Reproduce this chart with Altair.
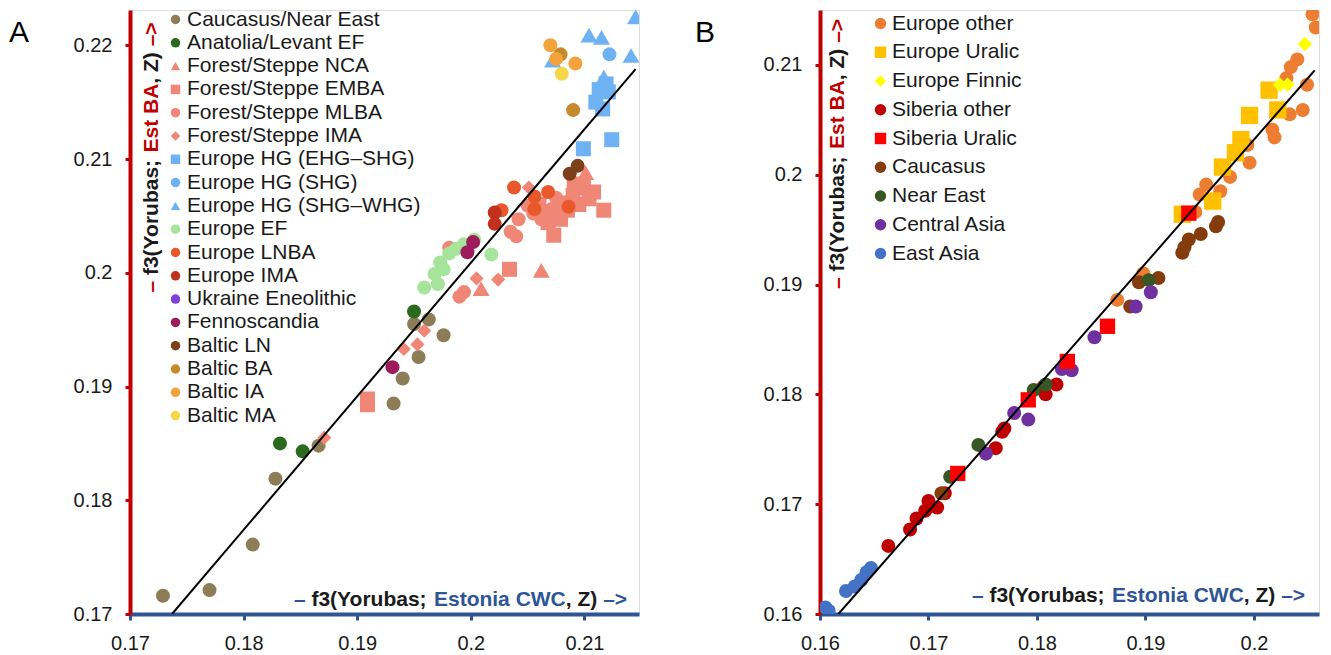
import altair as alt
import pandas as pd

FONT = "Liberation Sans"
RED = "#c00000"
BLUE = "#2f5597"
INK = "#1a1a1a"

# ---------------- Panel A data ----------------
a_groups = ["Caucasus/Near East", "Anatolia/Levant EF", "Forest/Steppe NCA",
            "Forest/Steppe EMBA", "Forest/Steppe MLBA", "Forest/Steppe IMA",
            "Europe HG (EHG–SHG)", "Europe HG (SHG)", "Europe HG (SHG–WHG)",
            "Europe EF", "Europe LNBA", "Europe IMA", "Ukraine Eneolithic",
            "Fennoscandia", "Baltic LN", "Baltic BA", "Baltic IA", "Baltic MA"]
a_colors = ["#8c7d57", "#2a6a1e", "#ef8676", "#ef8676", "#ef8676", "#ef8676",
            "#6fb2f4", "#6fb2f4", "#6fb2f4", "#a5e49a", "#e9582b", "#c2301f",
            "#7e3fdc", "#9b1b5b", "#7b4019", "#c68a2c", "#f2a33b", "#f8d649"]
a_shapes = ["circle", "circle", "triangle-up", "square", "circle", "diamond",
            "square", "circle", "triangle-up", "circle", "circle", "circle",
            "circle", "circle", "circle", "circle", "circle", "circle"]

caucasus_ne = [(0.1729, 0.1716), (0.1770, 0.1721), (0.1808, 0.1761), (0.1828, 0.1819),
               (0.1866, 0.1848), (0.1932, 0.1885), (0.1940, 0.1907), (0.1954, 0.1926),
               (0.1976, 0.1945), (0.1950, 0.1955), (0.1963, 0.1959)]
anatolia_levant = [(0.1832, 0.1850), (0.1852, 0.1843), (0.1950, 0.1966)]
fs_nca = [(0.2101, 0.2088), (0.2062, 0.2002), (0.2009, 0.1986)]
fs_emba = [(0.1909, 0.1884), (0.1909, 0.1889), (0.2034, 0.2003), (0.2073, 0.2033),
           (0.2068, 0.2044), (0.2079, 0.2047), (0.2091, 0.2078), (0.2099, 0.2075),
           (0.2104, 0.2065), (0.2117, 0.2055), (0.2085, 0.2055), (0.2060, 0.2060),
           (0.2090, 0.2068), (0.2095, 0.2060), (0.2078, 0.2060), (0.2065, 0.2052),
           (0.2108, 0.2071)]
fs_mlba = [(0.1981, 0.2022), (0.1990, 0.1979), (0.1994, 0.1983), (0.2035, 0.2036),
           (0.2040, 0.2032), (0.2042, 0.2047), (0.2050, 0.2059), (0.2062, 0.2047),
           (0.2071, 0.2056), (0.2082, 0.2062), (0.2055, 0.2052), (0.2075, 0.2066)]
fs_ima = [(0.1871, 0.1855), (0.1941, 0.1933), (0.1953, 0.1937), (0.1959, 0.1949),
          (0.2005, 0.1995), (0.2024, 0.1994), (0.2051, 0.2075)]
hg_ehg_shg = [(0.2099, 0.2109), (0.2124, 0.2117), (0.2116, 0.2144), (0.2110, 0.2150),
              (0.2121, 0.2159), (0.2113, 0.2161), (0.2119, 0.2166)]
hg_shg = [(0.2122, 0.2192)]
hg_shg_whg = [(0.2072, 0.2187), (0.2104, 0.2209), (0.2115, 0.2207), (0.2117, 0.2172),
              (0.2141, 0.2191), (0.2145, 0.2225)]
europe_ef = [(0.1959, 0.1987), (0.1971, 0.1990), (0.1968, 0.1999), (0.1976, 0.2003),
             (0.1973, 0.2009), (0.1981, 0.2017), (0.1987, 0.2021), (0.1994, 0.2025),
             (0.2003, 0.2029), (0.2018, 0.2016)]
europe_lnba = [(0.2027, 0.2055), (0.2038, 0.2075), (0.2056, 0.2067), (0.2068, 0.2071),
               (0.2056, 0.2056), (0.2086, 0.2058)]
europe_ima = [(0.2021, 0.2053), (0.2021, 0.2043)]
ukraine_eneolithic = []
fennoscandia = [(0.1931, 0.1917), (0.1997, 0.2018), (0.2002, 0.2027)]
baltic_ln = [(0.2087, 0.2087), (0.2094, 0.2094)]
baltic_ba = [(0.2079, 0.2192), (0.2090, 0.2143)]
baltic_ia = [(0.2070, 0.2200), (0.2075, 0.2188), (0.2092, 0.2184)]
baltic_ma = [(0.2080, 0.2175)]
a_series = [caucasus_ne, anatolia_levant, fs_nca, fs_emba, fs_mlba, fs_ima,
            hg_ehg_shg, hg_shg, hg_shg_whg, europe_ef, europe_lnba, europe_ima,
            ukraine_eneolithic, fennoscandia, baltic_ln, baltic_ba, baltic_ia, baltic_ma]
a_line_x = [0.1737, 0.2145]
a_line_y = [0.1700, 0.2179]
a_xticks = [0.17, 0.18, 0.19, 0.2, 0.21]
a_yticks = [0.17, 0.18, 0.19, 0.2, 0.21, 0.22]

# ---------------- Panel B data ----------------
b_groups = ["Europe other", "Europe Uralic", "Europe Finnic", "Siberia other",
            "Siberia Uralic", "Caucasus", "Near East", "Central Asia", "East Asia"]
b_colors = ["#ed7d31", "#ffc000", "#ffff00", "#c00000", "#ff0000", "#843c0c",
            "#375623", "#7030a0", "#4472c4"]
b_shapes = ["circle", "square", "diamond", "circle", "square", "circle",
            "circle", "circle", "circle"]

europe_other = [(0.1874, 0.1886), (0.1898, 0.1910), (0.1946, 0.1966), (0.1950, 0.1982),
                (0.1956, 0.1991), (0.1969, 0.1985), (0.1978, 0.1998), (0.1994, 0.2027),
                (0.1996, 0.2011), (0.2017, 0.2041), (0.2019, 0.2034), (0.2033, 0.2055),
                (0.2045, 0.2059), (0.2049, 0.2082), (0.2030, 0.2088), (0.2034, 0.2098),
                (0.2040, 0.2105), (0.2054, 0.2146), (0.2057, 0.2134)]
europe_uralic = [(0.1934, 0.1964), (0.1962, 0.1976), (0.1971, 0.2007), (0.1983, 0.2020),
                 (0.1988, 0.2032), (0.1996, 0.2054), (0.2014, 0.2077), (0.2022, 0.2059)]
europe_finnic = [(0.2024, 0.2082), (0.2031, 0.2082), (0.2047, 0.2119)]
siberia_other = [(0.1663, 0.1662), (0.1683, 0.1677), (0.1689, 0.1687), (0.1697, 0.1694),
                 (0.1700, 0.1703), (0.1708, 0.1697), (0.1715, 0.1710), (0.1762, 0.1751),
                 (0.1768, 0.1766), (0.1770, 0.1769), (0.1806, 0.1807), (0.1808, 0.1800),
                 (0.1818, 0.1809)]
siberia_uralic = [(0.1727, 0.1728), (0.1792, 0.1795), (0.1828, 0.1830), (0.1865, 0.1862),
                  (0.1940, 0.1965)]
caucasus = [(0.1712, 0.1710), (0.1886, 0.1880), (0.1894, 0.1902), (0.1912, 0.1906),
            (0.1934, 0.1929), (0.1936, 0.1934), (0.1940, 0.1941), (0.1951, 0.1946),
            (0.1965, 0.1953), (0.1967, 0.1957)]
near_east = [(0.1720, 0.1725), (0.1746, 0.1754), (0.1797, 0.1804), (0.1808, 0.1809),
             (0.1903, 0.1904)]
central_asia = [(0.1753, 0.1746), (0.1779, 0.1783), (0.1792, 0.1777), (0.1823, 0.1823),
                (0.1832, 0.1822), (0.1853, 0.1852), (0.1891, 0.1880), (0.1905, 0.1893)]
east_asia = [(0.1605, 0.1606), (0.1608, 0.1603), (0.1624, 0.1621), (0.1632, 0.1625),
             (0.1638, 0.1631), (0.1643, 0.1638), (0.1647, 0.1642)]
b_series = [europe_other, europe_uralic, europe_finnic, siberia_other, siberia_uralic,
            caucasus, near_east, central_asia, east_asia]
b_draw_order = ["Europe other", "Caucasus", "Siberia other", "Near East", "Central Asia",
                "East Asia", "Europe Uralic", "Siberia Uralic", "Europe Finnic"]
b_line_x = [0.1617, 0.2056]
b_line_y = [0.1600, 0.2095]
b_xticks = [0.16, 0.17, 0.18, 0.19, 0.2]
b_yticks = [0.16, 0.17, 0.18, 0.19, 0.2, 0.21]

# marker sizes per shape (style)
a_marker = {"square": 225, "triangle-up": 290, "circle": 196, "diamond": 200}
a_layer_order = ["square", "triangle-up", "circle", "diamond"]
b_marker = {"circle": 196, "square": 300, "diamond": 210}
b_sq_small = 235

# Arial/Liberation bold advance widths (per 1000 em)
BOLDW = {' ': 278, '–': 556, 'f': 333, '3': 556, '(': 333, ')': 333, 'Y': 667, 'o': 611,
         'r': 389, 'u': 611, 'b': 611, 'a': 556, 's': 556, ';': 333, 'E': 667, 't': 333,
         'n': 611, 'i': 278, 'C': 722, 'W': 944, ',': 278, 'Z': 611, '>': 584, 'B': 722,
         'A': 722}


def tw(s, fs):
    return sum(BOLDW.get(c, 556) for c in s) * fs / 1000.0


def title_layers(pieces, colors, cx, cy, fs, vertical):
    W = tw("".join(pieces), fs)
    out = []
    cum = 0.0
    for p, c in zip(pieces, colors):
        lead = len(p) - len(p.lstrip(" "))
        off = cum + tw(" " * lead, fs)
        txt = p.strip(" ")
        if vertical:
            enc = dict(x=alt.value(cx), y=alt.value(cy + W / 2 - off))
            extra = dict(angle=270)
        else:
            enc = dict(x=alt.value(cx - W / 2 + off), y=alt.value(cy))
            extra = {}
        out.append(
            alt.Chart(pd.DataFrame({"t": [txt]}))
            .mark_text(font=FONT, fontSize=fs, fontWeight="bold", color=c,
                       align="left", baseline="middle", **extra)
            .encode(text="t:N", **enc)
        )
        cum += tw(p, fs)
    return out


def make_df(groups, series, order):
    rows = []
    for g in order:
        for (x, y) in series[groups.index(g)]:
            rows.append({"group": g, "x": x, "y": y})
    return pd.DataFrame(rows)


def panel(groups, colors, shapes, series, order, shape_sizes, layer_shapes,
          xdom, ydom, xticks, yticks, w, h, leg, line_x, line_y,
          label, label_x, xt_center, yt_center, size_override=None):
    df = make_df(groups, series, order)
    X = alt.X("x:Q", scale=alt.Scale(domain=xdom, nice=False, zero=False),
              axis=alt.Axis(values=xticks, format="~g", title=None, grid=False,
                            domainColor=BLUE, domainWidth=4, tickColor=BLUE,
                            tickWidth=3, tickSize=6, labelFont=FONT, labelFontSize=20,
                            labelColor=INK, labelPadding=13, labelFlush=False,
                            labelOverlap=False))
    Y = alt.Y("y:Q", scale=alt.Scale(domain=ydom, nice=False, zero=False),
              axis=alt.Axis(values=yticks, format="~g", title=None, grid=False,
                            domainColor=RED, domainWidth=4, tickColor=RED,
                            tickWidth=3, tickSize=5, labelFont=FONT, labelFontSize=20,
                            labelColor=INK, labelPadding=13, labelFlush=False,
                            labelOverlap=False))
    C = alt.Color("group:N", title=None, scale=alt.Scale(domain=groups, range=colors), legend=leg)
    S = alt.Shape("group:N", title=None, scale=alt.Scale(domain=groups, range=shapes), legend=leg)
    layers = []
    for shp in layer_shapes:
        members = [g for g, s in zip(groups, shapes) if s == shp]
        if size_override:
            for g in members:
                sz = size_override.get(g, shape_sizes[shp])
                layers.append(
                    alt.Chart(df).transform_filter(alt.datum.group == g)
                    .mark_point(filled=True, opacity=1, size=sz, strokeWidth=0, clip=True)
                    .encode(x=X, y=Y, color=C, shape=S)
                )
        else:
            layers.append(
                alt.Chart(df).transform_filter(alt.FieldOneOfPredicate(field="group", oneOf=members))
                .mark_point(filled=True, opacity=1, size=shape_sizes[shp], strokeWidth=0, clip=True)
                .encode(x=X, y=Y, color=C, shape=S)
            )
    line = (alt.Chart(pd.DataFrame({"x": line_x, "y": line_y}))
            .mark_line(color="black", strokeWidth=2, clip=True)
            .encode(x=X, y=Y))
    layers.append(line)
    fs = 21
    xt = title_layers(["–", " f3(Yorubas; ", "Estonia CWC", ", Z) ", "–>"],
                      [BLUE, INK, BLUE, INK, BLUE], xt_center[0], xt_center[1], fs, False)
    yt = title_layers(["–", " f3(Yorubas; ", "Est BA", ", Z) ", "–>"],
                      [RED, INK, RED, INK, RED], yt_center[0], yt_center[1], fs, True)
    lab = (alt.Chart(pd.DataFrame({"t": [label]}))
           .mark_text(font=FONT, fontSize=30, align="left", baseline="alphabetic", color="black")
           .encode(text="t:N", x=alt.value(label_x), y=alt.value(32)))
    return alt.layer(*layers, *xt, *yt, lab).properties(width=w, height=h)


legA = alt.Legend(orient="none", legendX=35, legendY=-1, symbolSize=90, symbolStrokeWidth=0,
                  symbolOpacity=1, labelFont=FONT, labelFontSize=21, labelColor=INK,
                  labelLimit=400, rowPadding=1.3, labelOffset=1, padding=0)
legB = alt.Legend(orient="none", legendX=50, legendY=3, symbolSize=130, symbolStrokeWidth=0,
                  symbolOpacity=1, labelFont=FONT, labelFontSize=21, labelColor=INK,
                  labelLimit=400, rowPadding=6.75, labelOffset=1, padding=0)

panelA = panel(a_groups, a_colors, a_shapes, a_series, a_groups, a_marker, a_layer_order,
               [0.17, 0.2148], [0.17, 0.2231], a_xticks, a_yticks, 509, 604, legA,
               a_line_x, a_line_y, "A", -121, (330.5, 590), (22, 147.5))

panelB = panel(b_groups, b_colors, b_shapes, b_series, b_draw_order, b_marker,
               ["circle", "square", "diamond"],
               [0.16, 0.206], [0.16, 0.2150], b_xticks, b_yticks, 499, 604, legB,
               b_line_x, b_line_y, "B", -125, (318.5, 586), (18, 144),
               size_override={"Siberia Uralic": b_sq_small})

chart = (alt.hconcat(panelA, panelB, spacing=181, bounds="flush")
         .resolve_scale(color="independent", shape="independent")
         .resolve_legend(color="independent", shape="independent")
         .properties(padding={"left": 0, "top": 0, "right": 0, "bottom": 0})
         .configure_view(stroke=None)
         .configure(font=FONT))

chart.save("out.html", embed_options={"renderer": "svg", "actions": False})
